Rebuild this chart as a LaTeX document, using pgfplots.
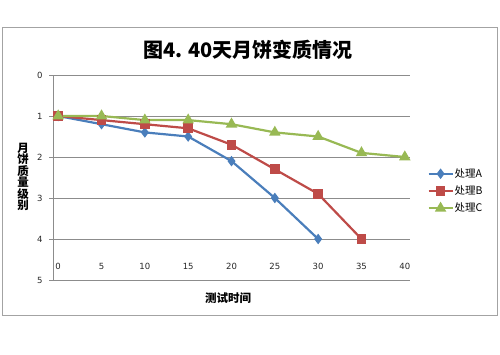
\documentclass[border=0pt]{standalone}
\usepackage{fontspec}
\setmainfont{DejaVu Sans}
\newfontfamily\cjk{Noto Sans CJK SC}
\usepackage{pgfplots}
\pgfplotsset{compat=1.18}
\definecolor{sA}{HTML}{4A7EBB}
\definecolor{sB}{HTML}{BE4B48}
\definecolor{sC}{HTML}{98B954}
\definecolor{gridc}{HTML}{8C8C8C}
\begin{document}
\begin{tikzpicture}[x=1pt,y=1pt]
\path[use as bounding box] (0,0) rectangle (500,355);
\draw[color=gridc!80, line width=1pt] (2,39) rectangle (497,327);
\begin{axis}[
  at={(53pt,75pt)}, anchor=south west,
  scale only axis, width=357pt, height=205pt,
  xmin=-0.6, xmax=40.6, ymin=0, ymax=5, y dir=reverse,
  xtick={0,5,...,40}, ytick={0,1,2,3,4,5},
  axis line style={draw=none},
  ymajorgrids, grid style={gridc, line width=0.9pt},
  ytick pos=left, tick align=outside, major tick length=4pt,
  ytick style={gridc, line width=0.9pt},
  xtick style={draw=none},
  /pgf/number format/assume math mode=true,
  ticklabel style={font=\fontsize{8.5}{10}\selectfont, text=black!85},
  xticklabel style={anchor=center, yshift=18pt},
  yticklabel style={xshift=-3pt},
  legend style={at={(1.04,0.434)}, anchor=west, draw=none, fill=none,
    font=\cjk\fontsize{10.5}{12}\selectfont, row sep=5pt,
    nodes={inner sep=1pt}},
  legend cell align=left,
  legend image code/.code={\draw[mark repeat=2,mark phase=2] plot coordinates {(0pt,0pt) (12pt,0pt) (24pt,0pt)};},
]
\draw[gridc, line width=0.9pt] (rel axis cs:0,0) -- (rel axis cs:0,1);
\addplot[sA, line width=2.2pt, mark=diamond*, mark size=3.5pt, mark options={solid}] coordinates {
 (0,1) (5,1.2) (10,1.4) (15,1.5) (20,2.1) (25,3.0) (30,4.0)};
\addlegendentry{处理A}
\addplot[sB, line width=2.2pt, mark=square*, mark size=3.8pt, mark options={solid}] coordinates {
 (0,1) (5,1.1) (10,1.2) (15,1.3) (20,1.7) (25,2.3) (30,2.9) (35,4.0)};
\addlegendentry{处理B}
\addplot[sC, line width=2.2pt, mark=triangle*, mark size=4.5pt, mark options={solid}] coordinates {
 (0,1) (5,1) (10,1.1) (15,1.1) (20,1.2) (25,1.4) (30,1.5) (35,1.9) (40,2.0)};
\addlegendentry{处理C}
\end{axis}
\node[font=\cjk\bfseries\fontsize{20}{24}\selectfont] at (248,305) {图4. 40天月饼变质情况};
\node[font=\cjk\bfseries\fontsize{11.5}{11.5}\selectfont, align=center] at (23,178) {月\\饼\\质\\量\\级\\别};
\node[font=\cjk\bfseries\fontsize{11.5}{14}\selectfont] at (228,57) {测试时间};
\end{tikzpicture}
\end{document}
